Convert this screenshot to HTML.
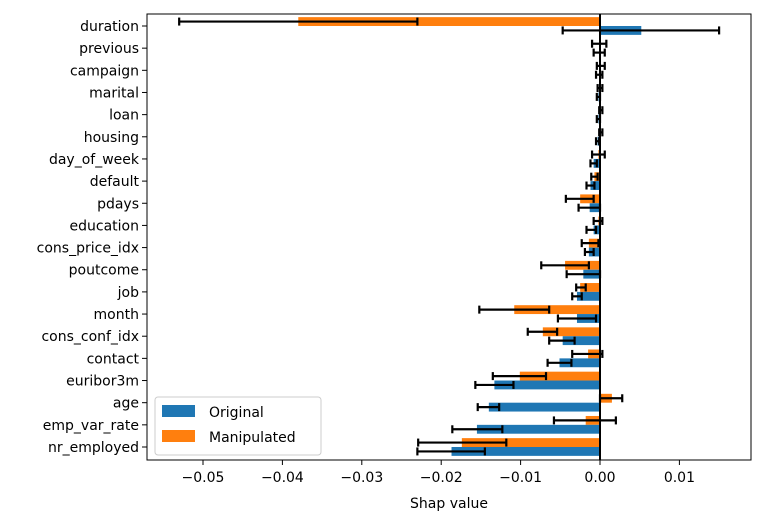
<!DOCTYPE html>
<html><head><meta charset="utf-8"><style>
body{margin:0;background:#fff}
svg text{font-family:"DejaVu Sans","Liberation Sans",sans-serif;fill:#000}
</style></head><body>
<svg id="chart" width="761" height="524" xmlns="http://www.w3.org/2000/svg"></svg>
<script>
const categories=["duration","previous","campaign","marital","loan","housing","day_of_week","default","pdays","education","cons_price_idx","poutcome","job","month","cons_conf_idx","contact","euribor3m","age","emp_var_rate","nr_employed"];
const originalValues=[0.0052,-0.0001,-0.0001,-0.0002,-0.0002,-0.0003,-0.0008,-0.0012,-0.0013,-0.0008,-0.0014,-0.0021,-0.0029,-0.0029,-0.0047,-0.0051,-0.0133,-0.014,-0.0155,-0.0187];
const originalErrLow=[-0.0047,-0.0008,-0.0005,-0.0004,-0.0004,-0.0005,-0.0012,-0.0017,-0.0027,-0.0017,-0.0019,-0.0042,-0.0035,-0.0053,-0.0064,-0.0066,-0.0157,-0.0154,-0.0186,-0.023];
const originalErrHigh=[0.015,0.0006,0.0003,0.0,0.0,-0.0001,-0.0004,-0.0007,0.0,-0.0005,-0.0008,0.0,-0.0023,-0.0005,-0.0032,-0.0036,-0.0109,-0.0127,-0.0123,-0.0145];
const manipValues=[-0.038,-0.0001,0.0001,0.0,0.0001,0.0001,-0.0002,-0.0007,-0.0025,-0.0002,-0.0014,-0.0044,-0.0025,-0.0108,-0.0072,-0.0015,-0.0101,0.0015,-0.0018,-0.0174];
const manipErrLow=[-0.053,-0.001,-0.0004,-0.0003,-0.0001,-0.0001,-0.001,-0.0011,-0.0043,-0.0008,-0.0023,-0.0074,-0.003,-0.0152,-0.0091,-0.0035,-0.0135,0.0,-0.0058,-0.0229];
const manipErrHigh=[-0.023,0.0008,0.0006,0.0003,0.0003,0.0003,0.0006,-0.0003,-0.0008,0.0003,-0.0002,-0.0014,-0.0018,-0.0064,-0.0054,0.0003,-0.0068,0.0028,0.002,-0.0118];
const xTicks=[-0.05,-0.04,-0.03,-0.02,-0.01,0.0,0.01];
const xTickLabels=["\u22120.05","\u22120.04","\u22120.03","\u22120.02","\u22120.01","0.00","0.01"];

const svg=document.getElementById('chart');
const NS="http://www.w3.org/2000/svg";
const L=147,R=751,T=14,B=460;
const x0=600,pxPer=7940;
function xs(v){return x0+v*pxPer;}
const rowTop=26,rowStep=(447-26)/19;
function yc(i){return rowTop+i*rowStep;}
const bh=rowStep*0.4;
function mk(tag,attrs,name,parent){const e=document.createElementNS(NS,tag);for(const k in attrs)e.setAttribute(k,attrs[k]);


(parent||svg).appendChild(e);return e;}
mk('rect',{x:L,y:T,width:R-L,height:B-T,fill:'#fff'},'plot-area');
function bar(v,y,color,name){const a=xs(0),b=xs(v);mk('rect',{x:Math.min(a,b),y:y,width:Math.abs(b-a),height:bh,fill:color},name);}
function err(lo,hi,y,name){const g=mk('g',{stroke:'#000','stroke-width':2.2},name);
mk('line',{x1:xs(lo),x2:xs(hi),y1:y,y2:y},'error-line',g);
mk('line',{x1:xs(lo),x2:xs(lo),y1:y-4,y2:y+4},'error-cap',g);
mk('line',{x1:xs(hi),x2:xs(hi),y1:y-4,y2:y+4},'error-cap',g);}
categories.forEach((c,i)=>{
  const y=yc(i);
  bar(manipValues[i],y-bh,'#ff7f0e','bar-manipulated-'+c);
  bar(originalValues[i],y,'#1f77b4','bar-original-'+c);
});
categories.forEach((c,i)=>{
  const y=yc(i);
  err(manipErrLow[i],manipErrHigh[i],y-bh/2,'errorbar-manipulated-'+c);
  err(originalErrLow[i],originalErrHigh[i],y+bh/2,'errorbar-original-'+c);
  mk('line',{x1:L-5,x2:L,y1:y,y2:y,stroke:'#000','stroke-width':1},'y-tick');
  const t=mk('text',{x:L-8,y:y+5,'text-anchor':'end','font-size':14},'y-label-'+c);t.textContent=c;
});
mk('line',{x1:xs(0),x2:xs(0),y1:T,y2:B,stroke:'#000','stroke-width':2},'zero-line');
mk('rect',{x:L,y:T,width:R-L,height:B-T,fill:'none',stroke:'#000','stroke-width':1},'plot-frame');
xTicks.forEach((v,i)=>{
  mk('line',{x1:xs(v),x2:xs(v),y1:B,y2:B+5,stroke:'#000','stroke-width':1},'x-tick');
  const t=mk('text',{x:xs(v),y:B+22,'text-anchor':'middle','font-size':14},'x-tick-label');t.textContent=xTickLabels[i];
});
const xl=mk('text',{x:(L+R)/2,y:508,'text-anchor':'middle','font-size':14},'x-axis-title');xl.textContent='Shap value';
const lg=mk('g',{},'legend');
mk('rect',{x:155,y:397,width:166,height:58,rx:3,fill:'#fff',stroke:'#ccc'},'legend-box',lg);
mk('rect',{x:162,y:405,width:33,height:12,fill:'#1f77b4'},'legend-swatch-original',lg);
mk('rect',{x:162,y:430,width:33,height:12,fill:'#ff7f0e'},'legend-swatch-manipulated',lg);
const t1=mk('text',{x:209,y:417,'font-size':14},'legend-entry-original',lg);t1.textContent='Original';
const t2=mk('text',{x:209,y:442,'font-size':14},'legend-entry-manipulated',lg);t2.textContent='Manipulated';
</script>
</body></html>
